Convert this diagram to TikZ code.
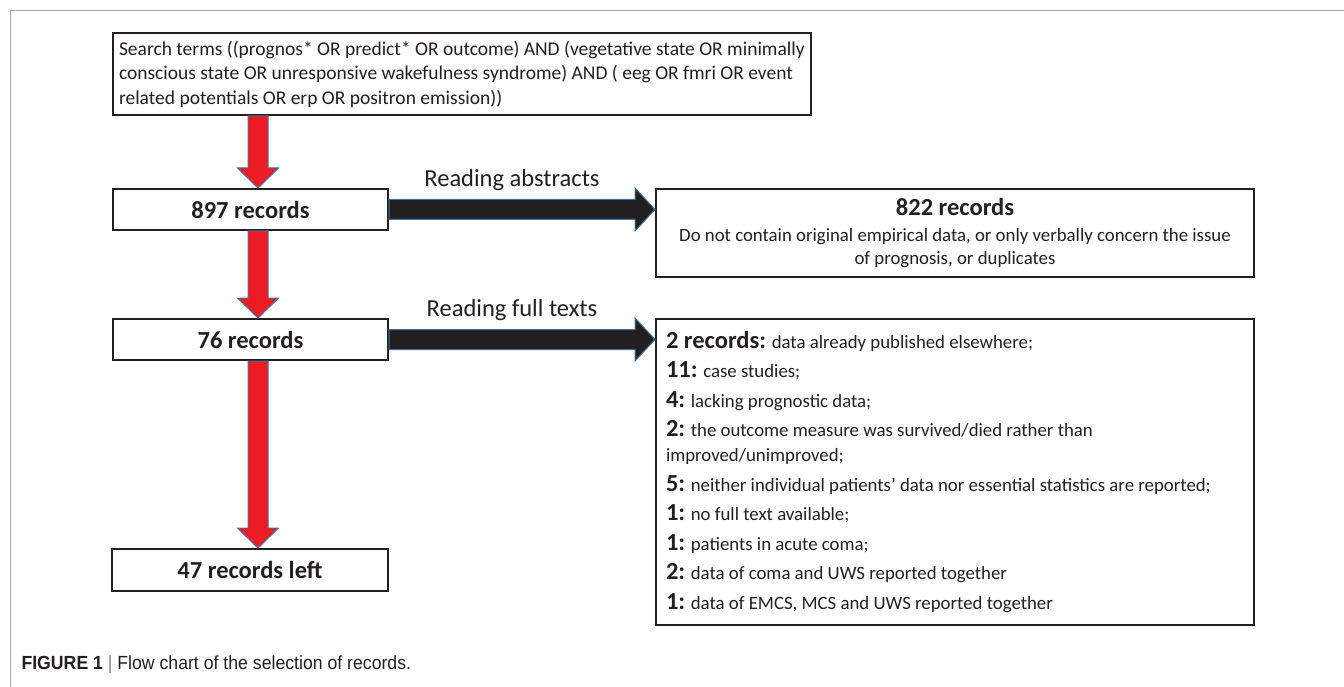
\documentclass[tikz,border=0pt]{standalone}
\usepackage{fontspec}
\setmainfont{Carlito}
\newfontfamily\capfont[FakeStretch=0.93]{Liberation Sans}
\usepackage{tikz}
\usetikzlibrary{calc}
\definecolor{arrowred}{HTML}{ED1C24}
\definecolor{arrowdark}{HTML}{231F20}
\definecolor{arrowedge}{HTML}{41719C}
\tikzset{
  recbox/.style={draw=arrowdark, line width=2pt, fill=white, text=arrowdark,
    inner sep=0pt, anchor=north west},
  redarrow/.style={fill=arrowred, draw=arrowedge, line width=1pt},
  darkarrow/.style={fill=arrowdark, draw=arrowedge, line width=1pt},
  steplabel/.style={midway, yshift=19pt, text=arrowdark,
    font=\fontsize{24.5}{29}\selectfont},
}
\newcommand\bignum[1]{{\fontsize{24.5}{25}\selectfont\bfseries #1}}
\newcommand\smalltext{\fontsize{19.5}{24.5}\selectfont}
\newcommand\listtext{\fontsize{18.8}{25}\selectfont}

%% red block arrow, downwards onto the box
\newcommand\vblock[2]{%
  \draw[redarrow] let \p1=(#1), \p2=(#2) in
    (\x2-10pt,\y1) -- (\x2+10pt,\y1) -- (\x2+10pt,\y2+20pt) -- (\x2+20.5pt,\y2+20pt)
    -- (\x2,\y2) -- (\x2-20.5pt,\y2+20pt) -- (\x2-10pt,\y2+20pt) -- cycle;}
%% dark block arrow, to the right, with its label on top
\newcommand\hblock[3]{%
  \draw[darkarrow] let \p1=(#1), \p2=(#2) in
    (\x1,\y1+10pt) -- node[steplabel]{#3} (\x2-20pt,\y1+10pt) -- (\x2-20pt,\y1+21.5pt)
    -- (\x2,\y1) -- (\x2-20pt,\y1-21.5pt) -- (\x2-20pt,\y1-10pt) -- (\x1,\y1-10pt) -- cycle;}

\begin{document}
\begin{tikzpicture}[x=1pt, y=-1pt]
\useasboundingbox (0,0) rectangle (1344,687);

%% frame
\draw[gray!70, line width=1pt] (10,687) -- (10,11) -- (1344,11);

%% left column
\node[recbox, minimum height=82pt, inner xsep=6pt, align=flush left,
  font=\smalltext] (search) at (112,32)
{Search terms ((prognos* OR predict* OR outcome) AND (vegetative state OR minimally\\
conscious state OR unresponsive wakefulness syndrome) AND ( eeg OR fmri OR event\\
related potentials OR erp OR positron emission))};

\node[recbox, minimum width=275pt, minimum height=41pt] (s897) at (112,188)
{\bignum{897 records}};
\node[recbox, minimum width=275pt, minimum height=41pt] (s76) at (112,318)
{\bignum{76 records}};
\node[recbox, minimum width=276pt, minimum height=42pt] (s47) at (111,548)
{\bignum{47 records left}};

%% right column
\node[recbox, minimum width=598pt, minimum height=88pt, text width=578pt,
  inner xsep=10pt, align=flush center, font=\listtext] (r822) at (655,188)
{\bignum{822 records}\\[1pt]
Do not contain original empirical data, or only verbally concern the issue\\[-2pt]
of prognosis, or duplicates};

\node[recbox, minimum width=598pt, minimum height=306pt, text width=578pt,
  inner xsep=10pt, align=flush left, font=\listtext] (rlist) at (655,318)
{\bignum{2 records:} data already published elsewhere;\\[4.5pt]
\bignum{11:} case studies;\\[4.5pt]
\bignum{4:} lacking prognostic data;\\[4.5pt]
\bignum{2:} the outcome measure was survived/died rather than\\
improved/unimproved;\\[4.5pt]
\bignum{5:} neither individual patients’ data nor essential statistics are reported;\\[4.5pt]
\bignum{1:} no full text available;\\[4.5pt]
\bignum{1:} patients in acute coma;\\[4.5pt]
\bignum{2:} data of coma and UWS reported together\\[4.5pt]
\bignum{1:} data of EMCS, MCS and UWS reported together};

%% arrows
\vblock{search.south}{$(s897.north)+(7.5,0)$}
\vblock{s897.south}{$(s76.north)+(7.5,0)$}
\vblock{s76.south}{$(s47.north)+(8,0)$}
\hblock{s897.east}{r822.west}{Reading abstracts}
\hblock{s76.east}{rlist.west}{Reading full texts}

%% caption
\node[anchor=west, text=arrowdark, font=\capfont\fontsize{19}{22}\selectfont] (caption)
  at (18,665) {\textbf{FIGURE 1} {\color{gray}|} Flow chart of the selection of records.};
\end{tikzpicture}
\end{document}
